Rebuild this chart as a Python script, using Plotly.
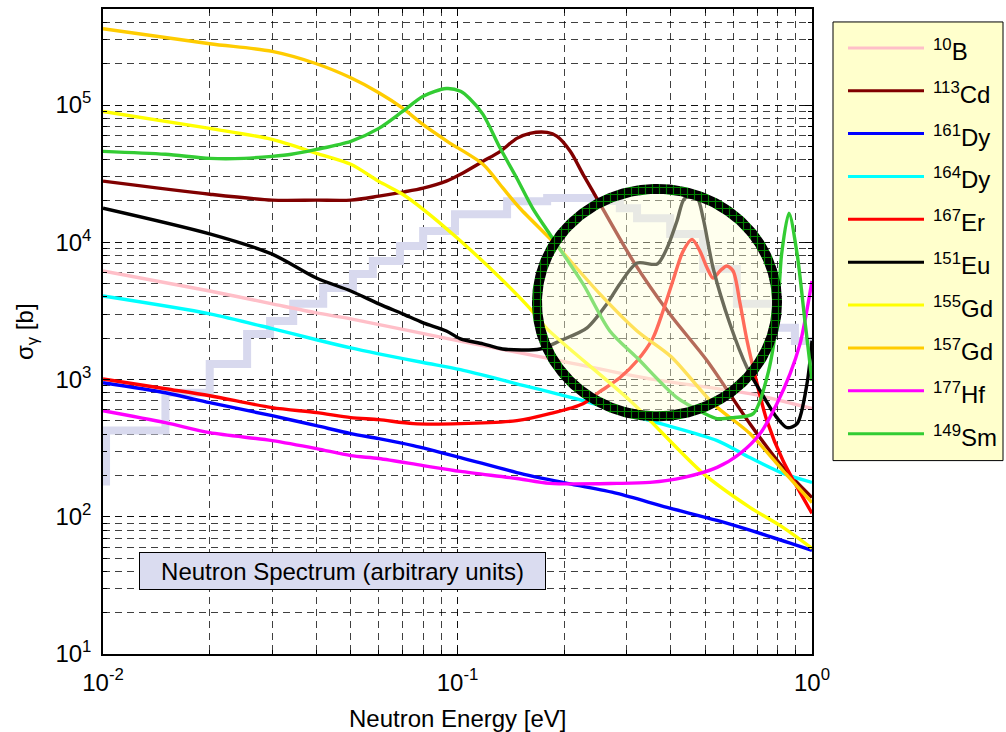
import numpy as np
import plotly.graph_objects as go

# Neutron capture cross sections (barns) versus neutron energy (eV)
B10_E = [0.01, 0.02, 0.03, 0.04, 0.05, 0.1, 0.182, 0.349, 0.668, 1.0]
B10_S = [6180, 4420, 3560, 3060, 2770, 1920, 1420, 1010, 789, 614]

Cd113_E = [0.01, 0.02, 0.03, 0.04, 0.05, 0.06, 0.07, 0.08, 0.093, 0.102, 0.118, 0.132,
           0.147, 0.160, 0.179, 0.191, 0.208, 0.226, 0.247, 0.313, 0.397, 0.506, 0.668,
           0.828, 1.0]
Cd113_S = [27900, 22400, 20300, 20300, 20300, 21700, 23200, 24800, 27900, 31300, 38900,
           46000, 57200, 62200, 63200, 59100, 46000, 31300, 21000, 7300, 3000, 1370, 477,
           229, 138]

Dy161_E = [0.01, 0.015, 0.02, 0.03, 0.04, 0.05, 0.06, 0.075, 0.102, 0.147, 0.204, 0.282,
           0.390, 0.540, 0.746, 1.0]
Dy161_S = [948, 801, 678, 545, 461, 404, 371, 330, 270, 210, 175, 148, 117, 94, 73, 57]

Dy164_E = [0.01, 0.02, 0.03, 0.04, 0.05, 0.06, 0.08, 0.102, 0.147, 0.226, 0.349, 0.540,
           0.668, 0.828, 1.0]
Dy164_S = [4060, 3010, 2350, 1950, 1700, 1540, 1330, 1180, 931, 701, 502, 359, 270, 207, 178]

Er167_E = [0.01, 0.015, 0.02, 0.03, 0.04, 0.05, 0.06, 0.075, 0.102, 0.147, 0.182, 0.226,
           0.252, 0.287, 0.321, 0.356, 0.380, 0.405, 0.433, 0.459, 0.483, 0.506, 0.526,
           0.550, 0.575, 0.599, 0.627, 0.656, 0.700, 0.746, 0.828, 1.0]
Er167_S = [1010, 857, 762, 624, 574, 528, 510, 477, 477, 502, 564, 667, 815, 1030, 1370,
           2010, 3160, 5230, 8630, 10500, 8630, 6500, 5490, 6180, 6720, 6180, 3560, 1910,
           931, 502, 257, 106]

Eu151_E = [0.01, 0.02, 0.03, 0.04, 0.05, 0.06, 0.07, 0.08, 0.093, 0.102, 0.118, 0.134,
           0.171, 0.195, 0.232, 0.264, 0.287, 0.321, 0.366, 0.390, 0.416, 0.438, 0.474,
           0.493, 0.526, 0.587, 0.656, 0.714, 0.796, 0.851, 0.908, 0.968, 1.0]
Eu151_S = [17700, 11500, 8200, 5490, 4420, 3560, 3010, 2590, 2260, 1980, 1820, 1670, 1670,
           1920, 2380, 3560, 4970, 7060, 6950, 9080, 14300, 21000, 21000, 15000, 6500,
           2540, 1220, 829, 528, 446, 477, 931, 1920]

Gd155_E = [0.01, 0.02, 0.03, 0.04, 0.05, 0.06, 0.07, 0.08, 0.1, 0.132, 0.160, 0.179,
           0.307, 0.493, 0.668, 0.828, 1.0]
Gd155_S = [89700, 67600, 56200, 44500, 37000, 27800, 22400, 17400, 10700, 5500, 3300,
           2340, 701, 207, 117, 83.7, 58.9]

Gd157_E = [0.01, 0.02, 0.03, 0.04, 0.05, 0.06, 0.07, 0.08, 0.094, 0.118, 0.134, 0.150,
           0.182, 0.195, 0.252, 0.321, 0.400, 0.526, 0.668, 0.828, 1.0]
Gd157_S = [360000, 280000, 246000, 200000, 158000, 123000, 95000, 72000, 54000, 37000,
           25000, 17700, 10700, 8850, 4210, 2260, 1470, 667, 404, 217, 127]

Hf177_E = [0.01, 0.015, 0.02, 0.03, 0.04, 0.05, 0.06, 0.08, 0.102, 0.147, 0.182, 0.282,
           0.349, 0.433, 0.540, 0.627, 0.714, 0.796, 0.867, 0.925, 0.955, 1.0]
Hf177_S = [593, 485, 410, 359, 314, 279, 266, 236, 214, 190, 175, 175, 178, 193, 229, 289,
           404, 667, 1100, 1820, 2670, 5230]

Sm149_E = [0.01, 0.015, 0.02, 0.025, 0.03, 0.034, 0.04, 0.05, 0.06, 0.07, 0.08, 0.093,
           0.102, 0.108, 0.118, 0.132, 0.147, 0.163, 0.182, 0.226, 0.269, 0.321, 0.416,
           0.493, 0.540, 0.599, 0.683, 0.746, 0.796, 0.821, 0.861, 0.908, 0.955, 1.0]
Sm149_S = [46000, 43800, 40900, 40900, 42300, 43800, 47500, 54400, 67600, 89800, 116000,
           132000, 126000, 112000, 85500, 48400, 29300, 17700, 11500, 4970, 2260, 1440, 738,
           574, 519, 528, 564, 1030, 2670, 8200, 16300, 8200, 2670, 979]

# Neutron spectrum histogram (arbitrary units, drawn on the same axis)
spectrum_start = 169
spectrum_edges = [0.0102, 0.015, 0.020, 0.0255, 0.0296, 0.0344, 0.0418, 0.0507, 0.0577,
                  0.0688, 0.080, 0.0984, 0.138, 0.179, 0.241, 0.287, 0.321, 0.398, 0.493,
                  0.614, 0.786, 0.895, 1.0]
spectrum_levels = [425, 802, 1300, 2150, 2670, 3560, 4650, 5870, 7300, 9380, 12100, 16000,
                   19900, 21000, 20000, 17700, 15000, 11500, 6380, 3560, 2380, 1910]

labels = ["<sup>10</sup>B", "<sup>113</sup>Cd", "<sup>161</sup>Dy", "<sup>164</sup>Dy",
          "<sup>167</sup>Er", "<sup>151</sup>Eu", "<sup>155</sup>Gd", "<sup>157</sup>Gd",
          "<sup>177</sup>Hf", "<sup>149</sup>Sm"]
colors = ["#FFBFC8", "#800000", "#0000FF", "#00FFFF", "#FF0000", "#000000", "#FFFF00",
          "#FFCC00", "#FF00FF", "#33CC33"]
series = [(B10_E, B10_S), (Cd113_E, Cd113_S), (Dy161_E, Dy161_S), (Dy164_E, Dy164_S),
          (Er167_E, Er167_S), (Eu151_E, Eu151_S), (Gd155_E, Gd155_S), (Gd157_E, Gd157_S),
          (Hf177_E, Hf177_S), (Sm149_E, Sm149_S)]

# decade tick labels
x_tick_vals = [0.01, 0.1, 1]
x_tick_text = ["10<sup>-2</sup>", "10<sup>-1</sup>", "10<sup>0</sup>"]
y_tick_vals = [10, 100, 1000, 10000, 100000]
y_tick_text = ["10<sup>1</sup>", "10<sup>2</sup>", "10<sup>3</sup>", "10<sup>4</sup>",
               "10<sup>5</sup>"]

FONT = "Arial, Liberation Sans, Helvetica, sans-serif"
W, H = 1006, 732
PX_L, PX_R, PX_T, PX_B = 103, 812, 7, 654


def px_x(p):
    return (p - PX_L) / (PX_R - PX_L)


def px_y(p):
    return (PX_B - p) / (PX_B - PX_T)


fig = go.Figure()

# spectrum staircase
sx = [spectrum_edges[0]] + spectrum_edges
sy = [spectrum_start] + spectrum_levels + [spectrum_levels[-1]]
fig.add_trace(go.Scatter(x=sx, y=sy, mode="lines", line=dict(color="#D8D9EE", width=8, shape="hv"),
                         showlegend=False, hoverinfo="skip"))

for (e, s), c in zip(series, colors):
    fig.add_trace(go.Scatter(x=e, y=s, mode="lines",
                             line=dict(color=c, width=3.4, shape="spline", smoothing=0.8),
                             showlegend=False))

# highlight circle, drawn in pixel units on an overlay axis pair
cx, cy = 657, 301.5
rxo, ryo, rxi, ryi = 125, 119, 115, 109
th = np.linspace(0, 2 * np.pi, 241)
fig.add_trace(go.Scatter(x=cx + rxi * np.cos(th), y=cy + ryi * np.sin(th), mode="lines",
                         fill="toself", fillcolor="rgba(255,255,215,0.42)",
                         line=dict(width=0), xaxis="x2", yaxis="y2",
                         showlegend=False, hoverinfo="skip"))
ring_x = np.concatenate([cx + rxo * np.cos(th), cx + rxi * np.cos(th[::-1])])
ring_y = np.concatenate([cy + ryo * np.sin(th), cy + ryi * np.sin(th[::-1])])
fig.add_trace(go.Scatter(x=ring_x, y=ring_y, mode="lines", fill="toself",
                         fillcolor="black",
                         fillpattern=dict(shape="+", fgcolor="#00FF00", bgcolor="black",
                                          size=7, solidity=0.3),
                         line=dict(width=0), xaxis="x2", yaxis="y2",
                         showlegend=False, hoverinfo="skip"))

grid_color = "rgba(0,0,0,0.75)"
axis_common = dict(type="log", tickmode="array", showexponent="all",
                   ticks="inside", ticklen=7, tickcolor="black", showline=True,
                   linecolor="black", linewidth=1.5, mirror="ticks",
                   tickfont=dict(family=FONT, size=24, color="black"),
                   showgrid=True, gridcolor=grid_color, gridwidth=1, griddash="7px,5px",
                   minor=dict(dtick="D1", ticks="inside", ticklen=4, tickcolor="black",
                              showgrid=True, gridcolor=grid_color, gridwidth=1,
                              griddash="7px,5px"))

fig.update_layout(
    width=W, height=H,
    margin=dict(l=PX_L, r=W - PX_R, t=PX_T, b=H - PX_B),
    paper_bgcolor="white", plot_bgcolor="white",
    showlegend=False,
    xaxis=dict(range=[-2, 0], tickvals=x_tick_vals, ticktext=x_tick_text,
               ticklabelstandoff=6, **axis_common),
    yaxis=dict(range=[1, 5.70], tickvals=y_tick_vals, ticktext=y_tick_text,
               ticklabelstandoff=5, **axis_common),
    xaxis2=dict(overlaying="x", range=[PX_L, PX_R], visible=False, anchor="y2"),
    yaxis2=dict(overlaying="y", range=[PX_B, PX_T], visible=False, anchor="x2"),
    font=dict(family=FONT, color="black"),
)

annotations = [
    dict(text="Neutron Energy [eV]", xref="paper", yref="paper", x=0.5, y=px_y(719),
         xanchor="center", yanchor="middle", showarrow=False,
         font=dict(family=FONT, size=24)),
    dict(text="σ<sub>γ</sub> [b]", xref="paper", yref="paper", x=px_x(27), y=px_y(331),
         xanchor="center", yanchor="middle", textangle=-90, showarrow=False,
         font=dict(family=FONT, size=24)),
    dict(text="Neutron Spectrum (arbitrary units)", xref="paper", yref="paper",
         x=px_x(139), y=px_y(552), xanchor="left", yanchor="top", showarrow=False,
         width=405, height=36, align="center", valign="middle",
         bgcolor="#DADCF0", bordercolor="black", borderwidth=1, borderpad=0,
         font=dict(family=FONT, size=24)),
]

shapes = [dict(type="rect", xref="paper", yref="paper", x0=px_x(833), x1=px_x(1003),
               y0=px_y(460), y1=px_y(20), fillcolor="#FFFFCC",
               line=dict(color="black", width=1), layer="above")]
for i, (lab, c) in enumerate(zip(labels, colors)):
    ry = 46 + 43 * i
    shapes.append(dict(type="line", xref="paper", yref="paper", x0=px_x(848), x1=px_x(924),
                       y0=px_y(ry), y1=px_y(ry), line=dict(color=c, width=3), layer="above"))
    annotations.append(dict(text=lab, xref="paper", yref="paper", x=px_x(931),
                            y=px_y(ry + 2), xanchor="left", yanchor="middle",
                            showarrow=False, font=dict(family=FONT, size=24)))

fig.update_layout(annotations=annotations, shapes=shapes)
fig.write_html("out.html")
